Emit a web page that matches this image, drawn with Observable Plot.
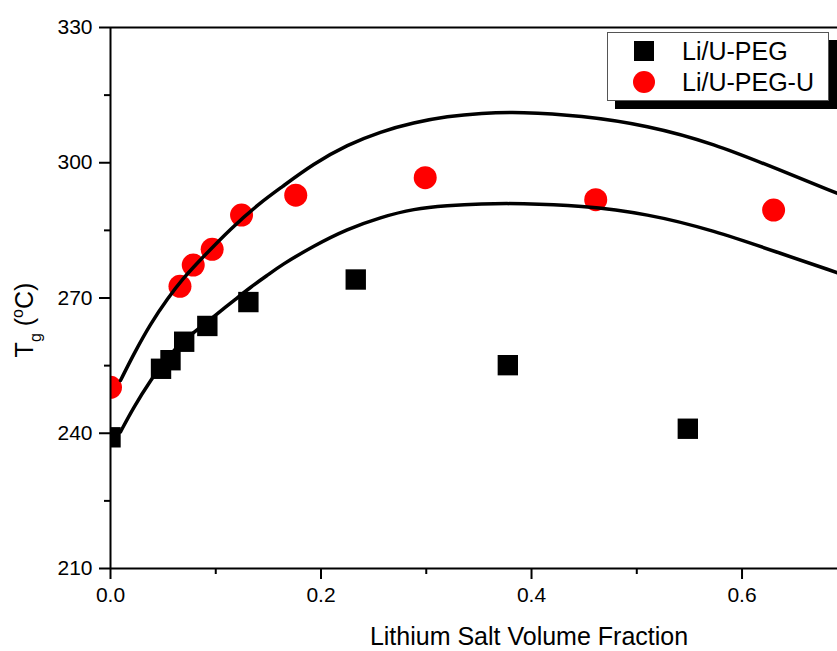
<!DOCTYPE html>
<html>
<head>
<meta charset="utf-8">
<script src="https://cdn.jsdelivr.net/npm/d3@7"></script>
<script src="https://cdn.jsdelivr.net/npm/@observablehq/plot@0.6"></script>
<style>
  html, body { margin: 0; padding: 0; background: white; }
  #wrap { position: relative; width: 837px; height: 651px; font-family: "Liberation Sans", Arial, sans-serif; }
  #legend { position: absolute; left: 607px; top: 32px; width: 220px; height: 67px; background: white; border: 1px solid #555; box-shadow: 8px 8px 0 #000; }
  .lg-txt { position: absolute; left: 74px; font-size: 25px; line-height: 30px; white-space: nowrap; }
</style>
</head>
<body>
<div id="wrap"></div>
<script>
// Data
const pegX = [0, 0.048, 0.057, 0.070, 0.092, 0.131, 0.233, 0.3775, 0.5485];
const pegY = [239.1, 254.3, 256.2, 260.3, 263.8, 269.1, 274.1, 255.1, 241.0];
const peguX = [0, 0.066, 0.0786, 0.0966, 0.1245, 0.176, 0.299, 0.461, 0.630];
const peguY = [250.2, 272.6, 277.3, 280.8, 288.4, 292.8, 296.7, 291.8, 289.5];

const upperX = [0.0095, 0.0219, 0.038, 0.0542, 0.0694, 0.0855, 0.114, 0.1425, 0.1615, 0.1929, 0.2252, 0.2565, 0.2879, 0.3202, 0.3515, 0.3895, 0.4466, 0.5102, 0.5729, 0.6366, 0.6907];
const upperY = [251.7, 257.5, 264.3, 269.9, 274.5, 278.5, 285.4, 291.2, 294.4, 299.8, 304.0, 306.9, 308.9, 310.3, 311.0, 311.3, 310.5, 308.3, 304.3, 298.3, 293.2];
const lowerX = [0.0095, 0.022, 0.038, 0.0538, 0.0696, 0.0855, 0.1014, 0.1171, 0.133, 0.1489, 0.1615, 0.1932, 0.2249, 0.2565, 0.2882, 0.3199, 0.3515, 0.3895, 0.4466, 0.5102, 0.5729, 0.6366, 0.6907];
const lowerY = [240.3, 245.8, 251.7, 256.9, 260.6, 263.5, 266.5, 269.4, 272.4, 275.0, 277.2, 281.6, 285.3, 287.9, 289.8, 290.5, 290.9, 291.0, 290.5, 288.7, 285.0, 279.9, 275.6];

const xMajor = [0, 0.2, 0.4, 0.6];
const xMinor = [0.1, 0.3, 0.5];
const yMajor = [210, 240, 270, 300, 330];
const yMinor = [225, 255, 285, 315];

const seriesNames = ["Li/U-PEG", "Li/U-PEG-U"];
const xLabel = "Lithium Salt Volume Fraction";

const peg = pegX.map((x, i) => ({x, y: pegY[i]}));
const pegu = peguX.map((x, i) => ({x, y: peguY[i]}));
const upper = upperX.map((x, i) => ({x, y: upperY[i]}));
const lower = lowerX.map((x, i) => ({x, y: lowerY[i]}));

const chart = Plot.plot({
  width: 837,
  height: 651,
  marginLeft: 110,
  marginRight: 0,
  marginTop: 27,
  marginBottom: 83,
  x: {domain: [0, 0.6907]},
  y: {domain: [210, 330]},
  style: {fontFamily: "'Liberation Sans', Arial, sans-serif", fontSize: "21px", color: "black", background: "white"},
  marks: [
    Plot.dot(peg, {x: "x", y: "y", symbol: "square", r: 11.5, fill: "black", clip: true}),
    Plot.dot(pegu, {x: "x", y: "y", symbol: "circle", r: 11.5, fill: "#ff0000", clip: true}),
    Plot.line(upper, {x: "x", y: "y", curve: "basis", stroke: "black", strokeWidth: 3.5, clip: true}),
    Plot.line(lower, {x: "x", y: "y", curve: "basis", stroke: "black", strokeWidth: 3.5, clip: true}),
    Plot.ruleX([0], {stroke: "black", strokeWidth: 2}),
    Plot.ruleY([210], {stroke: "black", strokeWidth: 2}),
    Plot.ruleY([330], {stroke: "black", strokeWidth: 2}),
    Plot.axisY(yMajor, {tickSize: 11, tickPadding: 7, strokeWidth: 2, label: null, tickFormat: d => String(d), fontSize: 21}),
    Plot.axisY(yMinor, {tickSize: 6, strokeWidth: 2, text: null, label: null}),
    Plot.axisX(xMajor, {tickSize: 11, tickPadding: 8, strokeWidth: 2, label: null, tickFormat: d3.format(".1f"), fontSize: 21}),
    Plot.axisX(xMinor, {tickSize: 6, strokeWidth: 2, text: null, label: null})
  ]
});

const wrap = document.getElementById("wrap");
wrap.appendChild(chart);

// Axis titles with sub/superscripts
const svg = d3.select(chart);
svg.append("text")
  .attr("x", 529).attr("y", 645)
  .attr("text-anchor", "middle")
  .attr("font-size", 25)
  .attr("fill", "black")
  .text(xLabel);

const yl = svg.append("text")
  .attr("transform", "translate(33,320) rotate(-90)")
  .attr("text-anchor", "middle")
  .attr("font-size", 25)
  .attr("fill", "black");
yl.append("tspan").text("T");
yl.append("tspan").attr("font-size", 16).attr("dy", 8).text("g");
yl.append("tspan").attr("dy", -8).text(" (");
yl.append("tspan").attr("font-size", 16).attr("dy", -10).text("o");
yl.append("tspan").attr("dy", 10).text("C)");

// Legend
const legend = document.createElement("div");
legend.id = "legend";
legend.innerHTML = `
  <svg width="70" height="67" style="position:absolute;left:0;top:0">
    <rect x="26" y="8" width="20" height="20" fill="black"></rect>
    <circle cx="36" cy="49" r="11" fill="#ff0000"></circle>
  </svg>
  <div class="lg-txt" style="top:3px">${seriesNames[0]}</div>
  <div class="lg-txt" style="top:34px">${seriesNames[1]}</div>`;
wrap.appendChild(legend);
</script>
</body>
</html>
